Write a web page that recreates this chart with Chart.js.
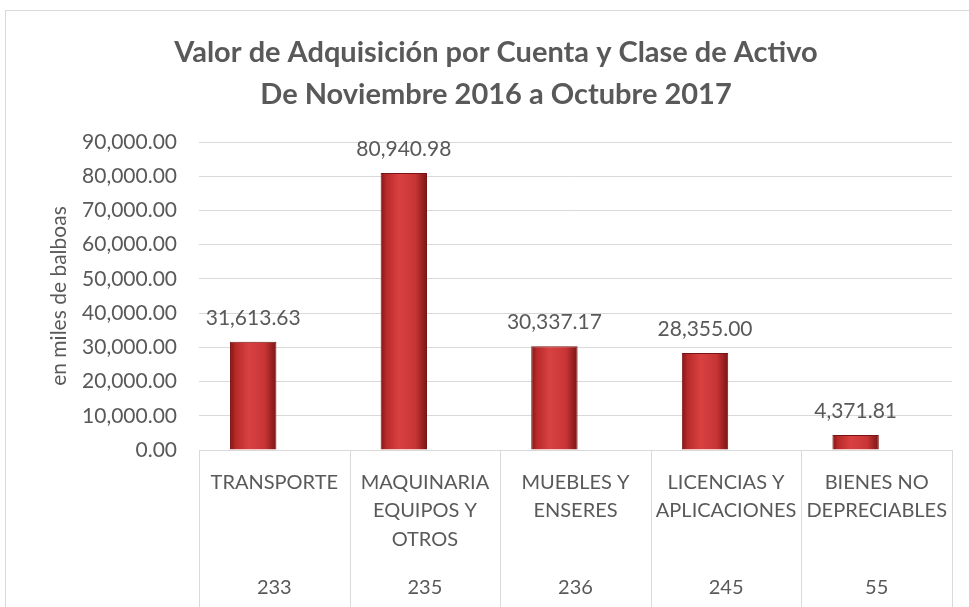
<!DOCTYPE html>
<html>
<head>
<meta charset="utf-8">
<script src="https://cdn.jsdelivr.net/npm/chart.js@4/dist/chart.umd.min.js"></script>
<style>
  html, body { margin: 0; padding: 0; background: #fff; overflow: hidden; }
  #wrap { position: relative; width: 969px; height: 607px; }
  #frame { position: absolute; left: 5px; top: 10px; width: 1000px; height: 700px; border: 1px solid #d9d9d9; }
  #chart { position: absolute; left: 0; top: 0; }
</style>
</head>
<body>
<div id="wrap">
  <div id="frame"></div>
  <canvas id="chart" width="969" height="607"></canvas>
</div>
<script>
// datos del grafico
var categorias = [
  ['TRANSPORTE'],
  ['MAQUINARIA', 'EQUIPOS Y', 'OTROS'],
  ['MUEBLES Y', 'ENSERES'],
  ['LICENCIAS Y', 'APLICACIONES'],
  ['BIENES NO', 'DEPRECIABLES']
];
var cuentas = ['233', '235', '236', '245', '55'];
var valores = [31613.63, 80940.98, 30337.17, 28355.00, 4371.81];
var ejeMin = 0;
var ejeMax = 90000;
var ejePaso = 10000;

var gris = '#595959';
var linea = '#d9d9d9';
var catPct = 0.56;
var barPct = 1.1;

function formato(v) {
  return v.toLocaleString('en-US', { minimumFractionDigits: 2, maximumFractionDigits: 2 });
}

// degradado horizontal de cada barra (efecto 3D)
function colorBarra(context) {
  var chart = context.chart;
  var xs = chart.scales.x;
  if (!xs || !chart.chartArea) return '#c33030';
  var ancho = (xs.right - xs.left) / categorias.length;
  var slot = ancho * catPct / 2;
  var centro = xs.getPixelForValue(context.dataIndex) - slot / 2;
  var w = slot * barPct;
  var g = chart.ctx.createLinearGradient(centro - w / 2, 0, centro + w / 2, 0);
  g.addColorStop(0, '#821515');
  g.addColorStop(0.12, '#b82929');
  g.addColorStop(0.4, '#d94141');
  g.addColorStop(0.75, '#c83535');
  g.addColorStop(1, '#7a1414');
  return g;
}

var etiquetas = {
  id: 'etiquetas',
  afterDatasetsDraw: function(chart) {
    var ctx = chart.ctx;
    var meta = chart.getDatasetMeta(0);
    ctx.save();
    ctx.font = '21px Lato';
    ctx.fillStyle = gris;
    ctx.textAlign = 'center';
    ctx.textBaseline = 'middle';
    meta.data.forEach(function(bar, i) {
      ctx.fillText(formato(valores[i]), bar.x, bar.y - 24);
    });
    ctx.restore();
  }
};

var separadores = {
  id: 'separadores',
  afterDraw: function(chart) {
    var xs = chart.scales.x;
    var ctx = chart.ctx;
    var ancho = (xs.right - xs.left) / categorias.length;
    ctx.save();
    ctx.strokeStyle = linea;
    ctx.lineWidth = 1;
    for (var i = 0; i <= categorias.length; i++) {
      var x = Math.round(xs.left + ancho * i) + 0.5;
      ctx.beginPath();
      ctx.moveTo(x, chart.chartArea.bottom);
      ctx.lineTo(x, chart.height);
      ctx.stroke();
    }
    ctx.restore();
  }
};

var ctx = document.getElementById('chart');
var grafico = new Chart(ctx, {
  type: 'bar',
  data: {
    labels: categorias,
    datasets: [{
      data: valores,
      backgroundColor: colorBarra,
      borderColor: '#7a1414',
      borderWidth: 1,
      categoryPercentage: catPct,
      barPercentage: barPct
    }, {
      data: valores.map(function() { return null; }),
      categoryPercentage: catPct,
      barPercentage: barPct
    }]
  },
  options: {
    responsive: false,
    animation: false,
    devicePixelRatio: 1,
    layout: { padding: { left: 40, right: 17, top: 0, bottom: 0 } },
    plugins: {
      legend: { display: false },
      tooltip: { enabled: false },
      title: {
        display: true,
        text: ['Valor de Adquisición por Cuenta y Clase de Activo', 'De Noviembre 2016 a Octubre 2017'],
        color: gris,
        font: { family: 'Lato', size: 29, weight: 'bold', lineHeight: 1.45 },
        padding: { top: 32, bottom: 26 }
      }
    },
    scales: {
      y: {
        min: ejeMin,
        max: ejeMax,
        ticks: {
          stepSize: ejePaso,
          color: gris,
          padding: 22,
          font: { family: 'Lato', size: 21 },
          callback: function(v) { return formato(v); }
        },
        grid: { color: linea, drawTicks: false },
        border: { display: false },
        title: {
          display: true,
          text: 'en miles de balboas',
          color: gris,
          font: { family: 'Lato', size: 21 },
          padding: { top: 7, bottom: 0 }
        },
        afterFit: function(scale) { scale.width = 159; }
      },
      x: {
        ticks: {
          color: gris,
          padding: 10,
          maxRotation: 0,
          autoSkip: false,
          font: { family: 'Lato', size: 20, lineHeight: 1.43 }
        },
        grid: { display: false },
        border: { display: true, color: linea },
        afterFit: function(scale) { scale.height = 110; }
      },
      x2: {
        type: 'category',
        position: 'bottom',
        labels: cuentas,
        ticks: {
          color: gris,
          padding: 8,
          maxRotation: 0,
          font: { family: 'Lato', size: 20 }
        },
        grid: { display: false },
        border: { display: false },
        afterFit: function(scale) { scale.height = 47; }
      }
    }
  },
  plugins: [etiquetas, separadores]
});
</script>
</body>
</html>
